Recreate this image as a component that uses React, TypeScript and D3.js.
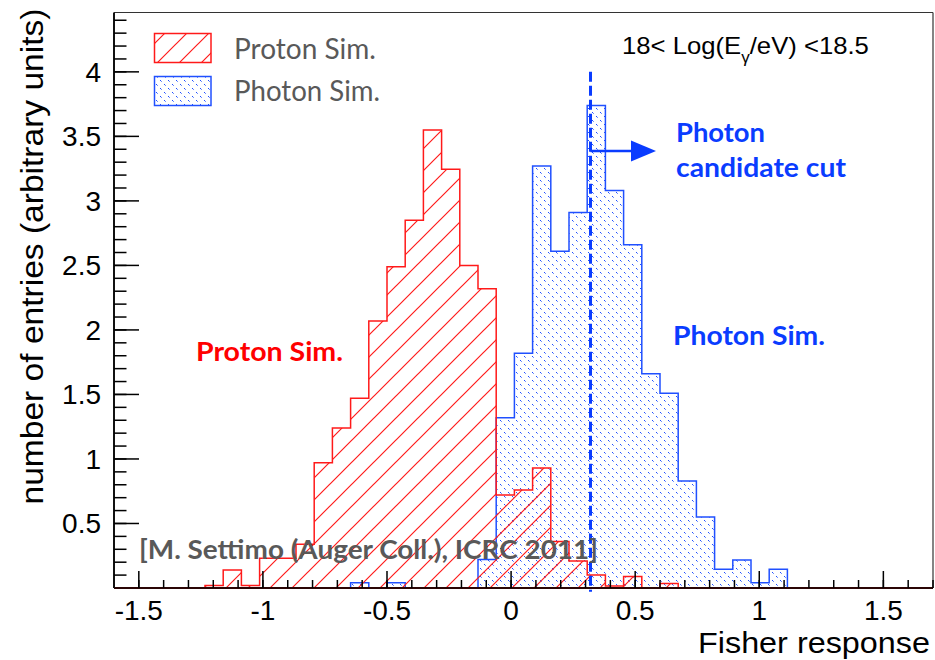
import React from "react";
import * as d3 from "d3";

// ---- data ----
const binEdgesRange = [-1.6, 1.7];
const nBins = 45;
const protonCounts = [
  0, 0, 0, 0, 0, 0.02, 0.14, 0.02, 0.23, 0.23,
  0.34, 0.97, 1.24, 1.47, 2.07, 2.49, 2.85, 3.55, 3.245, 2.5,
  2.32, 0.72, 0.76, 0.93, 0.36, 0.21, 0.1, 0.015, 0.09, 0,
  0.035, 0, 0, 0, 0, 0, 0, 0, 0, 0,
  0, 0, 0, 0, 0,
];
const photonCounts = [
  0, 0, 0, 0, 0, 0, 0, 0, 0, 0,
  0, 0, 0, 0.04, 0, 0.04, 0, 0, 0, 0,
  0.22, 1.32, 1.82, 3.27, 2.61, 2.91, 3.74, 3.08, 2.66, 1.66,
  1.51, 0.83, 0.55, 0.145, 0.217, 0.04, 0.145, 0, 0, 0,
  0, 0, 0, 0, 0,
];
const xTickLabels = ["-1.5", "-1", "-0.5", "0", "0.5", "1", "1.5"];
const xTickValues = [-1.5, -1, -0.5, 0, 0.5, 1, 1.5];
const yTickLabels = ["0.5", "1", "1.5", "2", "2.5", "3", "3.5", "4"];
const yTickValues = [0.5, 1, 1.5, 2, 2.5, 3, 3.5, 4];
const yMax = 4.46;
const cutValue = 0.32;
const cutRange = [-0.03, 4.0];
const legendLabels = ["Proton Sim.", "Photon Sim."];

// ---- layout ----
const W = 935;
const H = 660;
const L = 114;
const R = 933;
const T = 12.5;
const B = 588;

const x = d3.scaleLinear().domain(binEdgesRange).range([L, R]);
const y = d3.scaleLinear().domain([0, yMax]).range([B, T]);

const edges = d3.range(nBins + 1).map(
  (i) => binEdgesRange[0] + (i * (binEdgesRange[1] - binEdgesRange[0])) / nBins
);

function histPath(counts: number[]) {
  const nz = counts.map((c, i) => (c > 0 ? i : -1)).filter((i) => i >= 0);
  const first = nz[0];
  const last = nz[nz.length - 1];
  const pts: [number, number][] = [[x(edges[first]), y(0)]];
  for (let i = first; i <= last; i++) {
    pts.push([x(edges[i]), y(counts[i])]);
    pts.push([x(edges[i + 1]), y(counts[i])]);
  }
  pts.push([x(edges[last + 1]), y(0)]);
  return d3.line()(pts) as string;
}

const RED = "#ff1a1a";
const BLUE = "#2050ff";
const TEXTBLUE = "#0a3cff";
const GRAY = "#595959";
const ROOTFONT = "'Liberation Sans', Arial, Helvetica, sans-serif";
const PPTFONT = "Lato, 'Open Sans', sans-serif";

export default function App() {
  const minorX = d3.range(-16, 18).map((i) => i / 10);
  const minorY = d3.range(1, 45).map((i) => i / 10);

  return (
    <svg width={W} height={H} style={{ display: "block", position: "absolute", left: 0, top: 0, background: "#fff" }}>
      <defs>
        <pattern id="redHatch" patternUnits="userSpaceOnUse" width={22} height={22}>
          <path d="M0,22 L22,0 M-3,3 L3,-3 M19,25 L25,19" stroke={RED} strokeWidth={1.2} />
        </pattern>
        <pattern id="blueDots" patternUnits="userSpaceOnUse" width={8} height={8}>
          <path d="M0,0 L8,8 M-8,0 L0,8 M8,0 L16,8" stroke={BLUE} strokeWidth={1} strokeDasharray="2.3 3.36" />
        </pattern>
      </defs>

      {/* histograms */}
      <path d={histPath(photonCounts)} fill="url(#blueDots)" stroke={BLUE} strokeWidth={1.5} />
      <path d={histPath(protonCounts)} fill="url(#redHatch)" stroke={RED} strokeWidth={1.5} />

      {/* frame */}
      <line x1={L} y1={T} x2={R} y2={T} stroke="#333" strokeWidth={1.2} />
      <line x1={R} y1={T} x2={R} y2={B} stroke="#333" strokeWidth={1.2} />

      {/* x axis */}
      <line x1={L} y1={B} x2={R} y2={B} stroke="#2a0505" strokeWidth={2} />
      {minorX.map((v) => (
        <line key={"mx" + v} x1={x(v)} x2={x(v)} y1={B} y2={B - 8} stroke="#000" strokeWidth={1.5} />
      ))}
      {xTickValues.map((v, i) => (
        <g key={"xt" + v}>
          <line x1={x(v)} x2={x(v)} y1={B} y2={B - 17} stroke="#000" strokeWidth={1.5} />
          <text x={x(v)} y={620} textAnchor="middle" fontFamily={ROOTFONT} fontSize={28} fill="#000">
            {xTickLabels[i]}
          </text>
        </g>
      ))}
      <text x={930} y={653} textAnchor="end" fontFamily={ROOTFONT} fontSize={30} textLength={232} lengthAdjust="spacingAndGlyphs" fill="#000">
        Fisher response
      </text>

      {/* y axis */}
      <line x1={L} y1={T} x2={L} y2={B} stroke="#111" strokeWidth={2} />
      {minorY.map((v) => (
        <line key={"my" + v} x1={L} x2={L + 12.5} y1={y(v)} y2={y(v)} stroke="#000" strokeWidth={1.5} />
      ))}
      {yTickValues.map((v, i) => (
        <g key={"yt" + v}>
          <line x1={L} x2={L + 25} y1={y(v)} y2={y(v)} stroke="#000" strokeWidth={1.5} />
          <text x={101} y={y(v) + 10} textAnchor="end" fontFamily={ROOTFONT} fontSize={28} fill="#000">
            {yTickLabels[i]}
          </text>
        </g>
      ))}
      <text
        transform={`translate(43,${(8 + 505) / 2}) rotate(-90)`}
        textAnchor="middle"
        fontFamily={ROOTFONT}
        fontSize={32}
        textLength={496}
        lengthAdjust="spacingAndGlyphs"
        fill="#000"
      >
        number of entries (arbitrary units)
      </text>

      {/* cut line */}
      <line
        x1={x(cutValue)}
        x2={x(cutValue)}
        y1={y(cutRange[1])}
        y2={y(cutRange[0])}
        stroke={TEXTBLUE}
        strokeWidth={3}
        strokeDasharray="10 4"
      />
      <line x1={x(cutValue)} x2={634} y1={151} y2={151} stroke={TEXTBLUE} strokeWidth={2.5} />
      <path d="M631,140.5 L656,151 L631,161.5 Z" fill={TEXTBLUE} />
      <text fontFamily={PPTFONT} fontWeight={700} fontSize={27} fill={TEXTBLUE}>
        <tspan x={676} y={142} textLength={89} lengthAdjust="spacingAndGlyphs">Photon</tspan>
        <tspan x={676} y={177} textLength={170} lengthAdjust="spacingAndGlyphs">candidate cut</tspan>
      </text>

      {/* energy range */}
      <g transform="translate(622,54) scale(1.07,1)">
        <text x={0} y={0} fontFamily={ROOTFONT} fontSize={24} fill="#000">
          18&lt; Log(E
          <tspan fontSize={16} dy={9}>γ</tspan>
          <tspan dy={-9}>/eV) &lt;18.5</tspan>
        </text>
      </g>

      {/* legend */}
      <rect x={154.5} y={33.5} width={56.5} height={29} fill="url(#redHatch)" stroke={RED} strokeWidth={1.5} />
      <rect x={154.5} y={76.5} width={56.5} height={29} fill="url(#blueDots)" stroke={BLUE} strokeWidth={1.5} />
      <text x={234} y={59} fontFamily={PPTFONT} fontSize={28} textLength={142} lengthAdjust="spacingAndGlyphs" fill={GRAY}>{legendLabels[0]}</text>
      <text x={234} y={101} fontFamily={PPTFONT} fontSize={28} textLength={146} lengthAdjust="spacingAndGlyphs" fill={GRAY}>{legendLabels[1]}</text>

      {/* annotations */}
      <text x={196} y={361} fontFamily={PPTFONT} fontWeight={700} fontSize={27} textLength={147} lengthAdjust="spacingAndGlyphs" fill="#ff0000">Proton Sim.</text>
      <text x={673} y={345} fontFamily={PPTFONT} fontWeight={700} fontSize={27} textLength={152} lengthAdjust="spacingAndGlyphs" fill={TEXTBLUE}>Photon Sim.</text>
      <text x={139} y={559} fontFamily={PPTFONT} fontWeight={700} fontSize={26} textLength={459} lengthAdjust="spacingAndGlyphs" fill={GRAY}>
        [M. Settimo (Auger Coll.), ICRC 2011]
      </text>
    </svg>
  );
}
